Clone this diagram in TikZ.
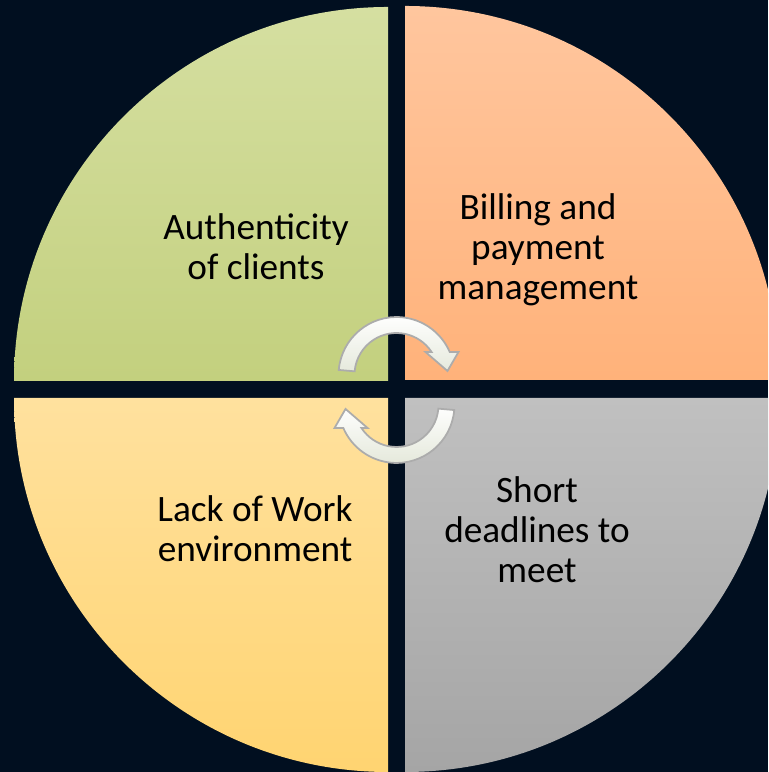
\documentclass[tikz,border=0pt]{standalone}
\usepackage{fontspec}
\setmainfont{Carlito}
\usetikzlibrary{calc}

\definecolor{navybg}{RGB}{1,15,32}
\definecolor{greentop}{RGB}{213,223,161}
\definecolor{greenlow}{RGB}{195,208,126}
\definecolor{orangetop}{RGB}{255,198,158}
\definecolor{orangelow}{RGB}{255,178,122}
\definecolor{yellowtop}{RGB}{255,225,158}
\definecolor{yellowlow}{RGB}{255,212,113}
\definecolor{graytop}{RGB}{192,192,192}
\definecolor{graylow}{RGB}{165,165,165}
\definecolor{arrowlow}{RGB}{228,232,218}

\begin{document}
\begin{tikzpicture}[
    quarter/.style={draw=none},
    caption/.style={font=\fontsize{10.6}{11.4}\selectfont, align=center, text=black, inner sep=0pt},
    cyclearrow/.style={draw=gray!65, line width=0.5pt, top color=white, bottom color=arrowlow}
]

% Background
\fill[navybg] (0,0) rectangle (7.68,7.72);
\useasboundingbox (0,0) rectangle (7.68,7.72);
\clip (0,0) rectangle (7.68,7.72);

% Quadrants
\shade[quarter, top color=greentop, bottom color=greenlow]
    (3.88,3.91) -- ++(-3.74,0) arc[start angle=180, end angle=90, radius=3.74] -- cycle;
\shade[quarter, top color=orangetop, bottom color=orangelow]
    (4.05,3.92) -- ++(0,3.74) arc[start angle=90, end angle=0, radius=3.74] -- cycle;
\shade[quarter, top color=yellowtop, bottom color=yellowlow]
    (3.88,3.74) -- ++(0,-3.74) arc[start angle=270, end angle=180, radius=3.74] -- cycle;
\shade[quarter, top color=graytop, bottom color=graylow]
    (4.05,3.74) -- ++(3.74,0) arc[start angle=0, end angle=-90, radius=3.74] -- cycle;

% Labels
\node[caption] (auth) at (2.56,5.25) {Authenticity\\of clients};
\node[caption] (bill) at (5.38,5.22) {Billing and\\payment\\management};
\node[caption] (lack) at (2.55,2.43) {Lack of Work\\environment};
\node[caption] (short) at (5.37,2.42) {Short\\deadlines to\\meet};

% Cycle arrows
\foreach \rot in {0,180} {
    \begin{scope}[shift={(3.965,3.82)}, rotate=\rot, scale=0.01]
        \draw[cyclearrow] (0,15) ++(175:58) arc[start angle=175, end angle=23.4, radius=58]
            -- (62,38) -- (51,19) -- (29,38) -- (35.1,38)
            arc[start angle=33.2, end angle=175, radius=42] -- cycle;
    \end{scope}
}

\end{tikzpicture}
\end{document}
